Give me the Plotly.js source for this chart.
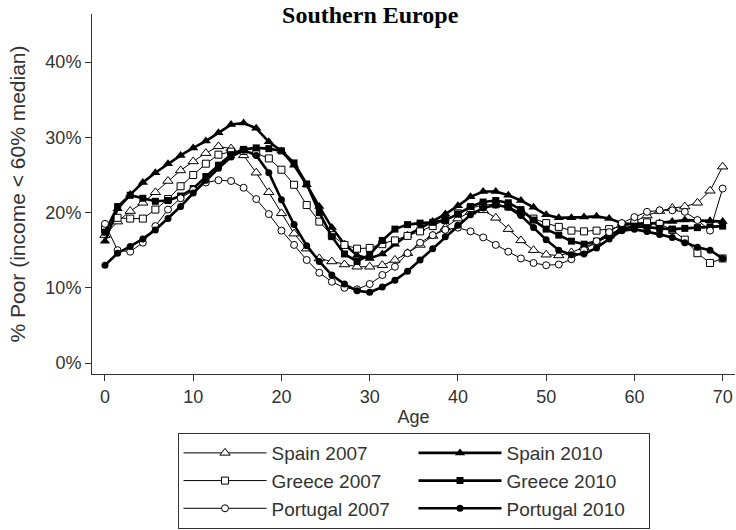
<!DOCTYPE html>
<html>
<head>
<meta charset="utf-8">
<script src="https://cdn.plot.ly/plotly-3.0.1.min.js"></script>
<style>html,body{margin:0;padding:0;background:#fff;}#chart{width:736px;height:530px;}</style>
</head>
<body>
<div id="chart"></div>
<script>
// Ages of the smoothed points (50 points from 0 to 70)
const ages = [0, 1.43, 2.86, 4.29, 5.71, 7.14, 8.57, 10, 11.43, 12.86,
  14.29, 15.71, 17.14, 18.57, 20, 21.43, 22.86, 24.29, 25.71, 27.14,
  28.57, 30, 31.43, 32.86, 34.29, 35.71, 37.14, 38.57, 40, 41.43,
  42.86, 44.29, 45.71, 47.14, 48.57, 50, 51.43, 52.86, 54.29, 55.71,
  57.14, 58.57, 60, 61.43, 62.86, 64.29, 65.71, 67.14, 68.57, 70];

// % poor (income < 60% median)
const spain2007 = [17.0, 18.8, 20.2, 21.3, 22.7, 24.2, 25.6, 26.8, 27.9, 28.8,
  28.5, 27.6, 25.3, 22.7, 19.9, 17.2, 15.2, 13.9, 13.5, 13.1,
  12.8, 12.8, 13.0, 13.7, 14.6, 15.7, 16.9, 18.0, 19.2, 20.1,
  20.3, 19.3, 17.8, 16.3, 15.0, 14.4, 14.3, 14.7, 15.4, 16.0,
  16.9, 17.9, 18.8, 19.6, 20.2, 20.6, 20.8, 21.3, 22.9, 26.1];
const spain2010 = [16.2, 20.5, 22.4, 24.0, 25.3, 26.5, 27.6, 28.6, 29.5, 30.6,
  31.7, 31.9, 31.2, 29.4, 28.2, 26.3, 23.7, 20.8, 18.0, 15.8,
  14.3, 13.9, 14.5, 15.8, 17.0, 17.9, 18.8, 19.8, 20.9, 22.1,
  22.8, 22.8, 22.3, 21.6, 20.7, 19.7, 19.3, 19.3, 19.4, 19.5,
  19.2, 18.6, 18.4, 18.5, 18.6, 18.8, 19.0, 19.0, 18.9, 18.8];
const greece2007 = [17.8, 19.3, 19.2, 19.2, 20.4, 21.8, 23.5, 25.0, 26.5, 27.7,
  28.1, 28.2, 27.9, 27.2, 25.7, 23.7, 21.0, 18.8, 17.0, 15.7,
  15.2, 15.3, 15.8, 16.3, 16.9, 17.5, 18.2, 19.0, 19.9, 20.6,
  21.0, 21.1, 20.8, 20.0, 19.2, 18.6, 18.1, 17.6, 17.5, 17.6,
  17.8, 18.2, 18.6, 18.7, 18.5, 17.7, 16.4, 14.6, 13.3, 13.9];
const greece2010 = [17.4, 20.8, 22.3, 21.9, 21.5, 21.6, 22.2, 23.2, 24.8, 26.3,
  27.7, 28.4, 28.6, 28.5, 28.2, 26.6, 23.8, 20.0, 16.8, 14.5,
  13.5, 14.4, 16.3, 17.8, 18.4, 18.6, 18.7, 19.0, 19.8, 20.8,
  21.4, 21.6, 21.3, 20.4, 19.0, 17.8, 17.0, 16.2, 15.8, 16.2,
  17.0, 17.8, 18.2, 18.0, 17.9, 17.8, 17.9, 18.0, 18.1, 18.2];
const portugal2007 = [18.5, 15.0, 14.8, 16.0, 18.2, 20.4, 21.9, 23.0, 24.0, 24.3,
  24.2, 23.3, 21.8, 19.8, 17.6, 15.7, 13.7, 12.0, 10.8, 10.0,
  9.8, 10.5, 11.7, 12.8, 14.6, 16.0, 17.0, 17.7, 18.0, 17.5,
  16.7, 15.7, 14.8, 13.9, 13.3, 13.0, 13.1, 13.8, 15.0, 16.2,
  17.4, 18.6, 19.4, 20.1, 20.3, 20.3, 20.1, 19.0, 17.6, 23.2];
const portugal2010 = [13.0, 14.6, 15.5, 16.5, 17.7, 19.2, 20.8, 22.6, 24.3, 25.9,
  27.4, 28.3, 27.6, 25.3, 21.7, 18.4, 15.6, 13.5, 11.7, 10.5,
  9.6, 9.4, 10.1, 11.0, 12.2, 13.7, 15.2, 16.8, 18.3, 19.7,
  20.6, 21.0, 20.7, 19.6, 18.0, 16.4, 15.0, 14.4, 14.5, 15.3,
  16.5, 17.6, 17.8, 17.5, 17.1, 16.7, 16.0, 15.4, 15.0, 13.9];

const seriesNames = ['Spain 2007', 'Spain 2010', 'Greece 2007', 'Greece 2010', 'Portugal 2007', 'Portugal 2010'];
const yTicks = [0, 10, 20, 30, 40];
const yTickText = ['0%', '10%', '20%', '30%', '40%'];
const xTicks = [0, 10, 20, 30, 40, 50, 60, 70];

const thin = 1, thick = 2.6;
function tr(name, y, sym, open, width, size) {
  return {
    type: 'scatter', mode: 'lines+markers', name: name, x: ages, y: y,
    line: {color: '#000', width: width},
    marker: {symbol: sym, size: size, color: open ? '#fff' : '#000',
             line: {color: '#000', width: open ? 1 : 0}},
    cliponaxis: false
  };
}
const data = [
  tr(seriesNames[0], spain2007, 'triangle-up', true, thin, 9),
  tr(seriesNames[1], spain2010, 'triangle-up', false, thick, 9),
  tr(seriesNames[2], greece2007, 'square', true, thin, 7),
  tr(seriesNames[3], greece2010, 'square', false, thick, 7),
  tr(seriesNames[4], portugal2007, 'circle', true, thin, 7),
  tr(seriesNames[5], portugal2010, 'circle', false, thick, 7)
];

const fontFam = '"Liberation Sans", Arial, Helvetica, sans-serif';
const layout = {
  width: 736, height: 530,
  margin: {l: 92, r: 1, t: 14, b: 156},
  paper_bgcolor: '#fff', plot_bgcolor: '#fff',
  font: {family: fontFam, size: 18, color: '#333'},
  title: {text: '<b>Southern Europe</b>', font: {family: '"Liberation Serif", "Times New Roman", serif', size: 24, color: '#000'},
          x: 0.503, xref: 'container', xanchor: 'center', y: 0.988, yref: 'container', yanchor: 'top'},
  xaxis: {range: [-1.47, 71.4], tickvals: xTicks, ticks: 'outside', ticklen: 6, tickcolor: '#333',
          showline: true, linecolor: '#333', linewidth: 1, showgrid: false, zeroline: false,
          tickfont: {size: 18, color: '#333'},
          title: {text: 'Age', font: {size: 18, color: '#333'}, standoff: 4}},
  yaxis: {range: [-1.46, 46.4], tickvals: yTicks, ticktext: yTickText, ticks: 'outside', ticklen: 6, tickcolor: '#333',
          showline: true, linecolor: '#333', linewidth: 1, showgrid: false, zeroline: false,
          tickfont: {size: 18, color: '#333'},
          title: {text: '% Poor (income < 60% median)', font: {size: 21, color: '#333'}, standoff: 14}},
  showlegend: true,
  legend: {orientation: 'h', x: 0.5, xanchor: 'center', y: -0.164, yanchor: 'top',
           bordercolor: '#333', borderwidth: 1, entrywidth: 137, itemwidth: 83,
           font: {size: 19, color: '#333'}, tracegroupgap: 0, traceorder: 'normal'}
};
Plotly.newPlot('chart', data, layout, {displayModeBar: false, staticPlot: true});
</script>
</body>
</html>
